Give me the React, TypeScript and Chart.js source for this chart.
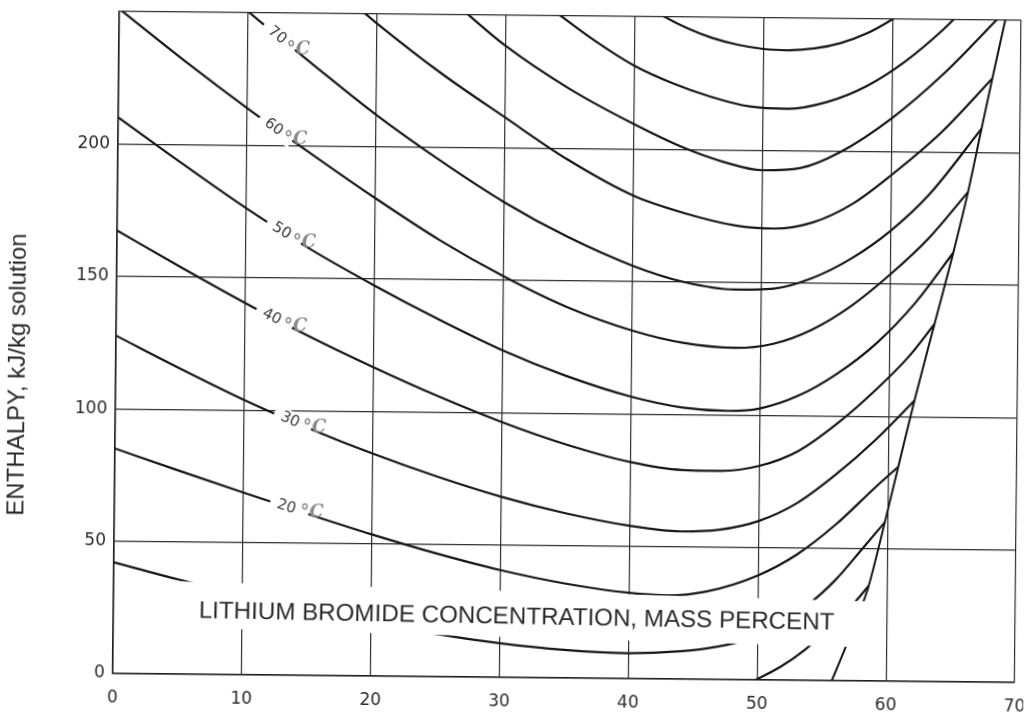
import React, { useEffect, useRef } from "react";
import { Chart, registerables } from "chart.js";

Chart.register(...registerables);

// ---- axis ticks ----
const X_TICKS = [0, 10, 20, 30, 40, 50, 60, 70];
const Y_TICKS = [0, 50, 100, 150, 200, 250];

// ---- isotherms: LiBr concentration (mass %) and enthalpy (kJ/kg) ----
const T0_X = [49.9, 51.8, 53.7, 55.6, 57.5, 58.6];
const T0_H = [0, 5, 11.6, 20, 29.5, 36];

const T10_X = [0, 5, 10, 15, 20, 25, 30, 35, 40, 44, 47, 50, 54, 56, 58, 59.8];
const T10_H = [42, 35.8, 30.2, 25.2, 20.6, 16.2, 12.9, 10.6, 9.6, 10.5, 12.5, 16.5, 29, 38, 49.5, 60];

const T20_X = [0, 5, 10, 15, 20, 25, 30, 35, 40, 43, 46, 50, 53, 56, 59, 60.8];
const T20_H = [85, 76.8, 68.8, 61, 53.5, 46.6, 40.5, 35.7, 32.4, 31.6, 33.2, 39.5, 47.5, 59, 73, 81];

const T30_X = [0, 5, 10, 15, 20, 25, 30, 35, 40, 44, 47, 50, 53, 56, 59, 62];
const T30_H = [127.6, 115.4, 103.8, 93.4, 84, 75.6, 68.2, 62.2, 57.7, 55.8, 56.6, 60, 67, 78, 91, 106];

const T40_X = [0, 5, 10, 15, 20, 25, 30, 35, 40, 44, 47, 50, 53, 56, 59, 61.5, 63.5];
const T40_H = [167.3, 153.6, 140.4, 128, 116.6, 106, 96.4, 88.2, 81.8, 79, 78.8, 80.8, 86.5, 97, 110, 122.5, 135];

const T50_X = [0, 5, 10, 15, 20, 25, 30, 35, 40, 44, 47.5, 50, 53, 56, 59, 62, 64.9];
const T50_H = [210, 192.8, 176.2, 161, 147.5, 135, 123.5, 114, 106.5, 102.6, 101.5, 102.5, 107.5, 116, 127.5, 143, 162];

const T60_X = [0, 5, 10, 15, 20, 25, 30, 35, 40, 44, 48, 51, 54, 57, 60, 63, 66];
const T60_H = [251, 232, 214, 197, 180.5, 165, 151.5, 140, 131.5, 127, 125.3, 127, 132.5, 141.5, 153.5, 167.5, 185];

const T70_X = [8, 10, 15, 20, 25, 30, 35, 40, 44, 48, 51, 54, 57, 60, 63, 67];
const T70_H = [259, 250.5, 231, 212, 195, 179.5, 166.5, 156, 150, 147.3, 147.8, 152, 159.5, 170, 184, 209];

const T80_X = [17, 19, 20, 25, 30, 35, 40, 44, 48, 51, 54, 57, 60, 64, 67.8];
const T80_H = [259, 250.5, 246.5, 228, 211.5, 195.5, 182.5, 176, 171.5, 170.5, 173, 180, 191, 208, 228];

const T90_X = [25.5, 27, 30, 35, 40, 44, 47, 50, 53, 56, 60, 64, 68.2];
const T90_H = [257, 250.5, 238.5, 222.5, 209.5, 200.5, 195.5, 192.5, 193.5, 199.5, 212.5, 229.5, 250.7];

const T100_X = [32.5, 34, 37, 40, 43, 46, 49, 52, 55, 58, 61, 64, 65.5];
const T100_H = [256.5, 251, 240.5, 231.5, 225, 220, 216.5, 215.8, 218.5, 224.5, 234, 246.5, 254];

const T110_X = [40.5, 42, 44, 46, 48, 50, 52, 54, 56, 58, 60, 61];
const T110_H = [256, 251, 246, 242.3, 239.8, 238.3, 237.9, 238.7, 240.8, 244.5, 250, 253.5];

// ---- crystallization line ----
const CRYST_X = [55.8, 56.8, 58.2, 58.6, 59.8, 60.8, 62.0, 63.5, 64.9, 66.0, 67.0, 67.8, 68.8];
const CRYST_H = [0, 12, 30, 36, 60, 81, 106, 135, 162, 185, 209, 228, 251];

// ---- isotherm labels (°C) and the concentration where each sits ----
const LABEL_TEMPS = [20, 30, 40, 50, 60, 70];
const LABEL_AT = [13.5, 13.7, 12.2, 12.9, 12.2, 12.4];

const X_TITLE = "LITHIUM BROMIDE CONCENTRATION, MASS PERCENT";
const Y_TITLE = "ENTHALPY, kJ/kg solution";

const CURVES = [
  { t: 0, x: T0_X, h: T0_H },
  { t: 10, x: T10_X, h: T10_H },
  { t: 20, x: T20_X, h: T20_H },
  { t: 30, x: T30_X, h: T30_H },
  { t: 40, x: T40_X, h: T40_H },
  { t: 50, x: T50_X, h: T50_H },
  { t: 60, x: T60_X, h: T60_H },
  { t: 70, x: T70_X, h: T70_H },
  { t: 80, x: T80_X, h: T80_H },
  { t: 90, x: T90_X, h: T90_H },
  { t: 100, x: T100_X, h: T100_H },
  { t: 110, x: T110_X, h: T110_H },
];

function interp(xs: number[], hs: number[], v: number): number {
  if (v <= xs[0]) return hs[0];
  for (let i = 1; i < xs.length; i++) {
    if (v <= xs[i]) {
      const f = (v - xs[i - 1]) / (xs[i] - xs[i - 1]);
      return hs[i - 1] + f * (hs[i] - hs[i - 1]);
    }
  }
  return hs[hs.length - 1];
}

const DEG = Math.PI / 180;

const decorPlugin = {
  id: "decor",
  afterDatasetsDraw(chart: any) {
    const { ctx } = chart;
    const xs = chart.scales.x;
    const ys = chart.scales.y;
    const px = (v: number) => xs.getPixelForValue(v);
    const py = (v: number) => ys.getPixelForValue(v);

    // pasted white band carrying the x-axis title
    ctx.save();
    ctx.translate(px(31), py(23.9));
    ctx.rotate(1.1 * DEG);
    ctx.fillStyle = "#ffffff";
    ctx.fillRect(-372, -23, 744, 46);
    ctx.restore();

    ctx.save();
    ctx.translate(px(31.3), py(22.8));
    ctx.rotate(0.5 * DEG);
    ctx.font = '25px "Liberation Sans", Arial, sans-serif';
    const w = ctx.measureText(X_TITLE).width;
    const size = (25 * 636) / w;
    ctx.font = `${size}px "Liberation Sans", Arial, sans-serif`;
    ctx.fillStyle = "#2a2a2a";
    ctx.textAlign = "center";
    ctx.textBaseline = "middle";
    ctx.fillText(X_TITLE, 0, 0);
    ctx.restore();

    // isotherm labels
    LABEL_TEMPS.forEach((t, i) => {
      const c = CURVES.find((cc) => cc.t === t);
      if (!c) return;
      const X = LABEL_AT[i];
      const x0 = px(X);
      const y0 = py(interp(c.x, c.h, X));
      const x1 = px(X + 1);
      const y1 = py(interp(c.x, c.h, X + 1));
      const a = Math.atan2(y1 - y0, x1 - x0);
      ctx.save();
      ctx.translate(x0, y0);
      ctx.rotate(a);
      ctx.fillStyle = "#ffffff";
      ctx.fillRect(-19, -9, 40, 18);
      ctx.fillStyle = "#3a3a3a";
      ctx.font = '15px "DejaVu Sans", sans-serif';
      ctx.textAlign = "center";
      ctx.textBaseline = "middle";
      ctx.fillText(String(t), -2, 0);
      ctx.restore();
      ctx.save();
      ctx.fillStyle = "#8a8a8a";
      ctx.font = 'bold italic 18px "DejaVu Serif", serif';
      ctx.textAlign = "center";
      ctx.textBaseline = "middle";
      ctx.fillText("°C", x0 + Math.cos(a) * 25, y0 + Math.sin(a) * 25 - 3);
      ctx.restore();
    });

    // y-axis title
    ctx.save();
    ctx.translate(18, 380);
    ctx.rotate(-Math.PI / 2);
    ctx.font = '24px "Liberation Sans", Arial, sans-serif';
    ctx.fillStyle = "#2a2a2a";
    ctx.textAlign = "center";
    ctx.textBaseline = "middle";
    ctx.fillText(Y_TITLE, 0, 0);
    ctx.restore();
  },
};

export default function App() {
  const canvasRef = useRef<HTMLCanvasElement | null>(null);

  useEffect(() => {
    const canvas = canvasRef.current;
    if (!canvas) return;

    const datasets: any[] = CURVES.map((c) => ({
      label: `${c.t} °C`,
      data: c.x.map((xv, i) => ({ x: xv, y: c.h[i] })),
      borderColor: "#161616",
      borderWidth: 2.2,
      pointRadius: 0,
      fill: false,
      cubicInterpolationMode: "monotone",
    }));
    datasets.push({
      label: "crystallization",
      data: CRYST_X.map((xv, i) => ({ x: xv, y: CRYST_H[i] })),
      borderColor: "#161616",
      borderWidth: 2,
      pointRadius: 0,
      fill: false,
      cubicInterpolationMode: "monotone",
    });

    const tickFont = { family: '"DejaVu Sans", sans-serif', size: 17 };

    const chart = new Chart(canvas, {
      type: "line",
      data: { datasets },
      plugins: [decorPlugin],
      options: {
        animation: false,
        responsive: false,
        devicePixelRatio: 1,
        events: [],
        layout: { padding: { top: 16, right: 9, left: 0, bottom: 0 } },
        plugins: {
          legend: { display: false },
          tooltip: { enabled: false },
          title: { display: false },
        },
        scales: {
          x: {
            type: "linear",
            min: 0,
            max: 70,
            afterBuildTicks: (scale: any) => {
              scale.ticks = X_TICKS.map((v) => ({ value: v }));
            },
            afterFit: (scale: any) => {
              scale.height = 40;
              scale.paddingLeft = 0;
              scale.paddingRight = 0;
            },
            ticks: {
              color: "#2a2a2a",
              font: tickFont,
              padding: 14,
              maxRotation: 0,
              autoSkip: false,
            },
            grid: {
              color: "#2e2e2e",
              lineWidth: 1.2,
              drawTicks: false,
              tickLength: 0,
            },
            border: { display: true, color: "#1e1e1e", width: 1.6 },
          },
          y: {
            type: "linear",
            min: 0,
            max: 250,
            afterBuildTicks: (scale: any) => {
              scale.ticks = Y_TICKS.map((v) => ({ value: v }));
            },
            afterFit: (scale: any) => {
              scale.width = 116;
              scale.paddingTop = 0;
              scale.paddingBottom = 0;
            },
            ticks: {
              color: "#2a2a2a",
              font: tickFont,
              padding: 8,
              autoSkip: false,
              callback: (v: any) => (Number(v) === 250 ? "" : String(v)),
            },
            grid: {
              color: "#2e2e2e",
              lineWidth: 1.2,
              drawTicks: false,
              tickLength: 0,
            },
            border: { display: true, color: "#1e1e1e", width: 1.6 },
          },
        },
      },
    } as any);

    return () => {
      chart.destroy();
    };
  }, []);

  return (
    <div
      style={{
        position: "absolute",
        left: 0,
        top: 0,
        width: 1027,
        height: 718,
        background: "#ffffff",
        overflow: "hidden",
      }}
    >
      <canvas
        ref={canvasRef}
        width={1027}
        height={718}
        style={{
          width: 1027,
          height: 718,
          display: "block",
          transform: "rotate(0.57deg)",
          transformOrigin: "567px 347px",
        }}
      />
    </div>
  );
}
